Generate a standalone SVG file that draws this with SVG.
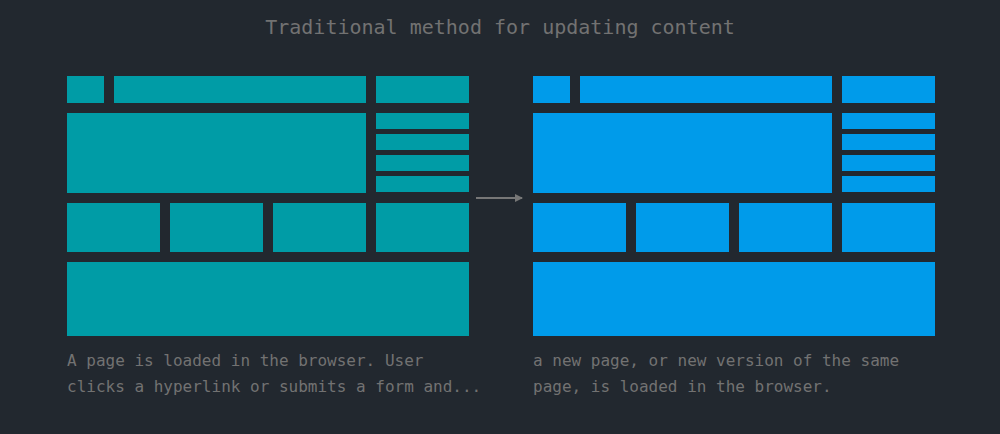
<svg xmlns="http://www.w3.org/2000/svg" width="1000" height="434" viewBox="0 0 1000 434">
<style>
.t{fill:#009ca6}
.b{fill:#009bea}
.txt{font-family:"DejaVu Sans Mono","Liberation Mono",monospace;fill:#727272}
.title{font-size:20px}
.cap{font-size:16px}
</style>
<defs>
<marker id="ah" markerWidth="8" markerHeight="8" refX="7" refY="4" orient="auto" markerUnits="userSpaceOnUse">
<path d="M0,0 L8,4 L0,8 Z" fill="#777"/>
</marker>
<g id="page">
<rect x="0" y="0" width="37" height="27"/>
<rect x="47" y="0" width="252" height="27"/>
<rect x="309" y="0" width="93" height="27"/>
<rect x="0" y="37" width="299" height="80"/>
<rect x="309" y="37" width="93" height="16"/>
<rect x="309" y="58" width="93" height="16"/>
<rect x="309" y="79" width="93" height="16"/>
<rect x="309" y="100" width="93" height="16"/>
<rect x="0" y="127" width="93" height="49"/>
<rect x="103" y="127" width="93" height="49"/>
<rect x="206" y="127" width="93" height="49"/>
<rect x="309" y="127" width="93" height="49"/>
<rect x="0" y="186" width="402" height="74"/>
</g>
</defs>
<rect width="1000" height="434" fill="#22282f"/>
<text class="txt title" x="500" y="34" text-anchor="middle">Traditional method for updating content</text>
<g id="page-before" class="t"><use href="#page" x="67" y="76"/></g>
<g id="page-after" class="b"><use href="#page" x="533" y="76"/></g>
<g id="connectors">
<line x1="476" y1="198" x2="522" y2="198" stroke="#777" stroke-width="2" marker-end="url(#ah)"/>
</g>
<g id="caption-before" class="txt cap">
<text x="67" y="366">A page is loaded in the browser. User</text>
<text x="67" y="392">clicks a hyperlink or submits a form and...</text>
</g>
<g id="caption-after" class="txt cap">
<text x="533" y="366">a new page, or new version of the same</text>
<text x="533" y="392">page, is loaded in the browser.</text>
</g>
</svg>
